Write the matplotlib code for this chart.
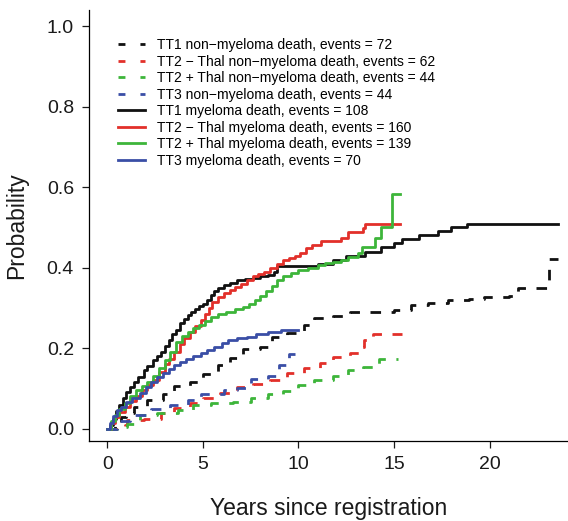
import matplotlib.pyplot as plt

plt.rcParams["font.family"] = ["Liberation Sans", "DejaVu Sans"]

# cumulative incidence, step knots (years, probability)
tt1_nm_t = [0, 0.4, 0.7, 1.0, 1.4, 2.1, 2.9, 3.5, 4.3, 5.0, 5.8, 6.4, 7.1, 8.0, 8.6,
            9.4, 10.3, 10.8, 11.8, 12.7, 15.0, 15.9, 16.8, 17.8, 18.9, 19.7, 21.0,
            21.5, 23.1, 23.6]
tt1_nm_p = [0, 0.015, 0.03, 0.04, 0.055, 0.072, 0.085, 0.105, 0.117, 0.136, 0.159,
            0.176, 0.198, 0.204, 0.228, 0.238, 0.258, 0.275, 0.28, 0.29, 0.295, 0.308,
            0.313, 0.32, 0.323, 0.328, 0.33, 0.35, 0.422, 0.422]

tt2m_nm_t = [0, 0.9, 1.05, 1.9, 2.8, 3.5, 4.3, 5.0, 5.9, 6.8, 7.6, 8.5, 9.4, 10.3,
             11.1, 11.8, 12.7, 13.3, 13.45, 13.9, 15.4]
tt2m_nm_p = [0, 0.008, 0.022, 0.025, 0.04, 0.052, 0.065, 0.077, 0.089, 0.104, 0.112,
             0.122, 0.139, 0.151, 0.164, 0.179, 0.189, 0.203, 0.221, 0.236, 0.236]

tt2p_nm_t = [0, 0.5, 1.05, 1.7, 2.6, 3.7, 4.5, 5.4, 6.6, 7.5, 8.4, 9.2, 10.0, 10.8,
             11.8, 12.6, 13.4, 14.2, 15.2]
tt2p_nm_p = [0, 0.005, 0.012, 0.033, 0.04, 0.047, 0.058, 0.064, 0.066, 0.077, 0.087,
             0.094, 0.109, 0.122, 0.131, 0.146, 0.154, 0.174, 0.174]

tt3_nm_t = [0, 0.5, 1.2, 2.3, 3.3, 4.2, 4.9, 6.1, 6.8, 7.5, 8.4, 9.0, 9.5, 9.8]
tt3_nm_p = [0, 0.02, 0.035, 0.05, 0.06, 0.072, 0.087, 0.097, 0.1, 0.124, 0.131,
            0.159, 0.186, 0.186]

tt1_m_t = [0, 0.15, 0.3, 0.45, 0.6, 0.8, 1.0, 1.2, 1.4, 1.6, 1.9, 2.1, 2.4, 2.6, 2.8,
           3.0, 3.2, 3.4, 3.6, 3.8, 4.0, 4.2, 4.4, 4.6, 4.8, 5.0, 5.2, 5.4, 5.6, 5.8,
           6.1, 6.4, 6.8, 7.2, 7.6, 8.0, 8.4, 8.7, 8.9, 11.0, 11.8, 12.5, 13.5, 14.3,
           15.0, 15.4, 16.3, 17.3, 18.0, 18.8, 23.6]
tt1_m_p = [0, 0.01, 0.025, 0.045, 0.06, 0.075, 0.09, 0.104, 0.115, 0.128, 0.146,
           0.155, 0.17, 0.18, 0.19, 0.205, 0.22, 0.235, 0.245, 0.262, 0.272, 0.282,
           0.29, 0.298, 0.305, 0.31, 0.32, 0.333, 0.342, 0.35, 0.357, 0.362, 0.368,
           0.372, 0.375, 0.378, 0.382, 0.39, 0.405, 0.41, 0.42, 0.43, 0.44, 0.45,
           0.46, 0.47, 0.48, 0.49, 0.5, 0.508, 0.508]

tt2m_m_t = [0, 0.2, 0.4, 0.6, 0.9, 1.2, 1.5, 1.8, 2.1, 2.4, 2.7, 3.0, 3.2, 3.5, 3.8,
            4.0, 4.3, 4.6, 4.9, 5.1, 5.3, 5.5, 5.8, 6.1, 6.4, 6.7, 7.0, 7.3, 7.6, 7.9,
            8.2, 8.5, 8.9, 9.2, 9.5, 9.8, 10.1, 10.4, 10.7, 11.2, 12.2, 12.6, 13.4,
            13.5, 15.3]
tt2m_m_p = [0, 0.015, 0.03, 0.042, 0.055, 0.068, 0.082, 0.095, 0.108, 0.12, 0.14,
            0.16, 0.172, 0.19, 0.21, 0.225, 0.24, 0.255, 0.27, 0.285, 0.3, 0.315,
            0.328, 0.338, 0.345, 0.352, 0.36, 0.37, 0.378, 0.383, 0.39, 0.398, 0.41,
            0.42, 0.425, 0.43, 0.437, 0.448, 0.457, 0.466, 0.474, 0.489, 0.499, 0.509,
            0.509]

tt2p_m_t = [0, 0.2, 0.4, 0.6, 0.9, 1.2, 1.5, 1.8, 2.1, 2.4, 2.7, 3.0, 3.3, 3.6, 3.9,
            4.2, 4.5, 4.8, 5.1, 5.4, 5.8, 6.2, 6.7, 7.1, 7.4, 7.7, 8.0, 8.3, 8.6, 8.9,
            9.2, 9.6, 10.0, 10.5, 11.0, 11.4, 11.8, 12.2, 12.6, 13.1, 13.3, 14.0, 14.3,
            14.9, 15.3]
tt2p_m_p = [0, 0.02, 0.035, 0.05, 0.065, 0.08, 0.095, 0.105, 0.115, 0.13, 0.15, 0.17,
            0.19, 0.215, 0.23, 0.24, 0.25, 0.258, 0.268, 0.278, 0.285, 0.29, 0.297,
            0.303, 0.31, 0.32, 0.33, 0.342, 0.355, 0.368, 0.378, 0.387, 0.393, 0.4,
            0.407, 0.411, 0.415, 0.42, 0.427, 0.437, 0.45, 0.474, 0.5, 0.583, 0.583]

tt3_m_t = [0, 0.15, 0.3, 0.5, 0.7, 1.0, 1.3, 1.7, 2.0, 2.3, 2.6, 2.9, 3.2, 3.5, 3.8,
           4.1, 4.5, 4.9, 5.2, 5.6, 6.0, 6.3, 6.8, 7.3, 7.8, 8.4, 9.1, 10.0]
tt3_m_p = [0, 0.015, 0.032, 0.047, 0.055, 0.067, 0.077, 0.089, 0.103, 0.117, 0.128,
           0.138, 0.148, 0.157, 0.165, 0.172, 0.18, 0.188, 0.195, 0.203, 0.213, 0.221,
           0.225, 0.228, 0.235, 0.241, 0.246, 0.246]

labels = [
    "TT1 non\u2212myeloma death, events = 72",
    "TT2 \u2212 Thal non\u2212myeloma death, events = 62",
    "TT2 + Thal non\u2212myeloma death, events = 44",
    "TT3 non\u2212myeloma death, events = 44",
    "TT1 myeloma death, events = 108",
    "TT2 \u2212 Thal myeloma death, events = 160",
    "TT2 + Thal myeloma death, events = 139",
    "TT3 myeloma death, events = 70",
]

black, red, green, blue = "#111111", "#E2302A", "#3DB53A", "#3A4EA6"

curves = [
    (tt1_nm_t, tt1_nm_p, black, "--"),
    (tt2m_nm_t, tt2m_nm_p, red, "--"),
    (tt2p_nm_t, tt2p_nm_p, green, "--"),
    (tt3_nm_t, tt3_nm_p, blue, "--"),
    (tt1_m_t, tt1_m_p, black, "-"),
    (tt2m_m_t, tt2m_m_p, red, "-"),
    (tt2p_m_t, tt2p_m_p, green, "-"),
    (tt3_m_t, tt3_m_p, blue, "-"),
]

fig = plt.figure(figsize=(5.68, 5.21), dpi=100)
ax = fig.add_axes([0.157, 0.154, 0.843, 0.827])

for (t, p, col, ls), lab in zip(curves, labels):
    line, = ax.plot(t, p, drawstyle="steps-post", color=col, lw=2, label=lab)
    if ls == "--":
        line.set_dashes((3.8, 3.8))

ax.set_xlim(-0.95, 24.1)
ax.set_ylim(-0.03, 1.04)
ax.set_xticks([0, 5, 10, 15, 20])
ax.set_yticks([0.0, 0.2, 0.4, 0.6, 0.8, 1.0])
ax.set_yticklabels(["0.0", "0.2", "0.4", "0.6", "0.8", "1.0"])
ax.tick_params(direction="out", length=5, width=0.9, labelsize=14, pad=6, colors="#1a1a1a")
for s in ["top", "right"]:
    ax.spines[s].set_visible(False)
for s in ["left", "bottom"]:
    ax.spines[s].set_linewidth(0.9)

ax.set_xlabel("Years since registration", fontsize=16.5, labelpad=17, color="#1a1a1a")
ax.set_ylabel("Probability", fontsize=16.5, labelpad=13, color="#1a1a1a")

leg = ax.legend(loc="upper left", bbox_to_anchor=(0.06, 0.934), frameon=False,
                fontsize=10, handlelength=1.95, handletextpad=0.9, labelspacing=0.18,
                borderpad=0, borderaxespad=0)
for h in leg.get_lines()[:4]:
    h.set_dashes((2.5, 5.4))

fig.savefig("out.png", dpi=100)
